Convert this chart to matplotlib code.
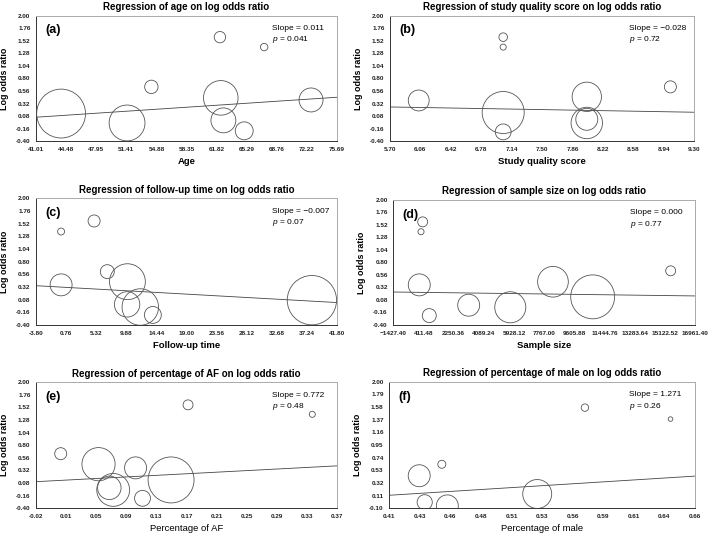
import numpy as np
import matplotlib
matplotlib.use("Agg")
import matplotlib.pyplot as plt

plt.rcParams['font.family'] = ['Liberation Sans', 'DejaVu Sans']
plt.rcParams['mathtext.fontset'] = 'custom'
plt.rcParams['mathtext.it'] = 'Liberation Sans:italic'
plt.rcParams['mathtext.rm'] = 'Liberation Sans'

# ---- data ----
# (a) age
age_x = [43.9, 51.5, 54.3, 62.2, 62.3, 62.6, 65.0, 67.3, 72.7]
age_y = [0.13, -0.05, 0.64, 1.59, 0.43, 0.00, -0.20, 1.40, 0.39]
age_w = [104, 56, 7.8, 5.6, 52, 27, 14, 2.4, 25]
age_ticks = ['41.01', '44.48', '47.95', '51.41', '54.88', '58.35',
             '61.82', '65.29', '68.76', '72.22', '75.69']

# (b) study quality score
qual_x = [6.04, 7.04, 7.04, 7.04, 7.04, 8.03, 8.03, 8.03, 9.02]
qual_y = [0.38, 1.59, 1.40, 0.15, -0.22, 0.45, 0.02, -0.05, 0.64]
qual_w = [19, 3.2, 1.6, 77, 11, 37.5, 21, 43, 6.3]
qual_ticks = ['5.70', '6.06', '6.42', '6.78', '7.14', '7.50',
              '7.86', '8.22', '8.58', '8.94', '9.30']

# (c) follow-up time
fu_x = [0.0, 5.0, 0.0, 7.0, 10.05, 10.0, 12.0, 13.9, 38.0]
fu_y = [1.37, 1.57, 0.36, 0.61, 0.42, -0.01, -0.06, -0.21, 0.07]
fu_w = [2.1, 6.3, 21, 8.5, 56, 28, 58, 12.5, 106]
fu_ticks = ['-3.80', '0.76', '5.32', '9.88', '14.44', '19.00',
            '23.56', '28.12', '32.68', '37.24', '41.80']

# (d) sample size
ss_x = [364, 263, 157, 767, 3168, 5704, 8306, 10726, 15480]
ss_y = [1.58, 1.39, 0.37, -0.22, -0.02, -0.06, 0.43, 0.14, 0.64]
ss_w = [4.3, 1.6, 21, 8.5, 21, 42, 41, 84, 4.3]
ss_ticks = ['\u22121427.40', '411.48', '2250.36', '4089.24', '5928.12', '7767.00',
            '9605.88', '11444.76', '13283.64', '15122.52', '16961.40']

# (e) percentage of AF
af_x = [0.012, 0.177, 0.338, 0.061, 0.075, 0.080, 0.109, 0.118, 0.155]
af_y = [0.64, 1.57, 1.39, 0.44, -0.01, -0.05, 0.37, -0.21, 0.14]
af_w = [6.3, 4.3, 1.6, 48, 24, 47, 21, 11, 92]
af_ticks = ['-0.02', '0.01', '0.05', '0.09', '0.13', '0.17',
            '0.21', '0.25', '0.29', '0.33', '0.37']

# (f) percentage of male
male_x = [0.4345, 0.439, 0.453, 0.4575, 0.531, 0.570, 0.640]
male_y = [0.44, 0.00, 0.63, -0.06, 0.137, 1.57, 1.38]
male_w = [21, 10, 2.8, 21, 36.5, 2.4, 0.9]
male_ticks = ['0.41', '0.43', '0.46', '0.48', '0.51', '0.53',
              '0.56', '0.59', '0.61', '0.64', '0.66']

y_ticks_std = ['2.00', '1.76', '1.52', '1.28', '1.04', '0.80',
               '0.56', '0.32', '0.08', '-0.16', '-0.40']
y_ticks_male = ['2.00', '1.79', '1.58', '1.37', '1.16', '0.95',
                '0.74', '0.53', '0.32', '0.11', '-0.10']

# regression lines: (value at left edge, slope)
panels = [
    dict(tag='(a)', title='Regression of age on log odds ratio', xlabel='Age',
         x=age_x, y=age_y, w=age_w, xlim=(41.01, 75.69), xt=age_ticks,
         ylim=(-0.40, 2.00), yt=y_ticks_std, y0=0.06, slope=0.011,
         slope_txt='0.011', p_txt='0.041', xbold=True,
         pos=[0.0508, 0.7364, 0.4245, 0.2343]),
    dict(tag='(b)', title='Regression of study quality score on log odds ratio',
         xlabel='Study quality score',
         x=qual_x, y=qual_y, w=qual_w, xlim=(5.70, 9.30), xt=qual_ticks,
         ylim=(-0.40, 2.00), yt=y_ticks_std, y0=0.256, slope=-0.028,
         slope_txt='\u22120.028', p_txt='0.72', xbold=True,
         pos=[0.5501, 0.7364, 0.4288, 0.2343]),
    dict(tag='(c)', title='Regression of follow-up time on log odds ratio',
         xlabel='Follow-up time',
         x=fu_x, y=fu_y, w=fu_w, xlim=(-3.80, 41.80), xt=fu_ticks,
         ylim=(-0.40, 2.00), yt=y_ticks_std, y0=0.344, slope=-0.007,
         slope_txt='\u22120.007', p_txt='0.07', xbold=True,
         pos=[0.0508, 0.3937, 0.4245, 0.2364]),
    dict(tag='(d)', title='Regression of sample size on log odds ratio',
         xlabel='Sample size',
         x=ss_x, y=ss_y, w=ss_w, xlim=(-1427.40, 16961.40), xt=ss_ticks,
         ylim=(-0.40, 2.00), yt=y_ticks_std, y0=0.233, slope=-4.1e-6,
         slope_txt='0.000', p_txt='0.77', xbold=True,
         pos=[0.5547, 0.3937, 0.4255, 0.2332]),
    dict(tag='(e)', title='Regression of percentage of AF on log odds ratio',
         xlabel='Percentage of AF',
         x=af_x, y=af_y, w=af_w, xlim=(-0.02, 0.37), xt=af_ticks,
         ylim=(-0.40, 2.00), yt=y_ticks_std, y0=0.107, slope=0.772,
         slope_txt='0.772', p_txt='0.48', xbold=False,
         pos=[0.0508, 0.0517, 0.4245, 0.2351]),
    dict(tag='(f)', title='Regression of percentage of male on log odds ratio',
         xlabel='Percentage of male',
         x=male_x, y=male_y, w=male_w, xlim=(0.41, 0.66), xt=male_ticks,
         ylim=(-0.10, 2.00), yt=y_ticks_male, y0=0.116, slope=1.271,
         slope_txt='1.271', p_txt='0.26', xbold=False,
         pos=[0.549, 0.0517, 0.4312, 0.2362]),
]

fig = plt.figure(figsize=(7.09, 5.36), dpi=100)

for p in panels:
    ax = fig.add_axes(p['pos'])
    # bubble area proportional to study weight
    sizes = np.array(p['w']) * 11.9
    ax.scatter(p['x'], p['y'], s=sizes, facecolors='none',
               edgecolors='#555555', linewidths=0.6, zorder=3)

    x0, x1 = p['xlim']
    xs = np.array([x0, x1])
    ax.plot(xs, p['y0'] + p['slope'] * (xs - x0), color='#444444', lw=0.6, zorder=2)

    ax.set_xlim(x0, x1)
    ax.set_ylim(*p['ylim'])
    ax.set_xticks(np.linspace(x0, x1, len(p['xt'])))
    ax.set_xticklabels(p['xt'])
    ax.set_yticks(np.linspace(p['ylim'][1], p['ylim'][0], len(p['yt'])))
    ax.set_yticklabels(p['yt'])
    ax.tick_params(length=0, labelsize=4.6, pad=4, colors='#222222')
    for lab in ax.get_xticklabels() + ax.get_yticklabels():
        lab.set_fontweight('bold')

    for side in ['top', 'right']:
        ax.spines[side].set_color('#aaaaaa')
    for side in ['left', 'bottom']:
        ax.spines[side].set_color('#333333')
    for sp in ax.spines.values():
        sp.set_linewidth(0.7)

    ax.set_title(p['title'], fontsize=7.0, fontweight='bold', pad=4)
    ax.set_xlabel(p['xlabel'], fontsize=6.8,
                  fontweight='bold' if p['xbold'] else 'normal', labelpad=4)
    ax.set_ylabel('Log odds ratio', fontsize=6.4, fontweight='bold', labelpad=5)

    ax.text(0.03, 0.93, p['tag'], transform=ax.transAxes, fontsize=9,
            fontweight='bold', va='top', ha='left')
    ax.text(0.785, 0.885, 'Slope = ' + p['slope_txt'], transform=ax.transAxes,
            fontsize=6, va='baseline', ha='left')
    ax.text(0.785, 0.795, r'$\mathit{p}$ = ' + p['p_txt'], transform=ax.transAxes,
            fontsize=6, va='baseline', ha='left')

fig.savefig('out.png', dpi=100)
